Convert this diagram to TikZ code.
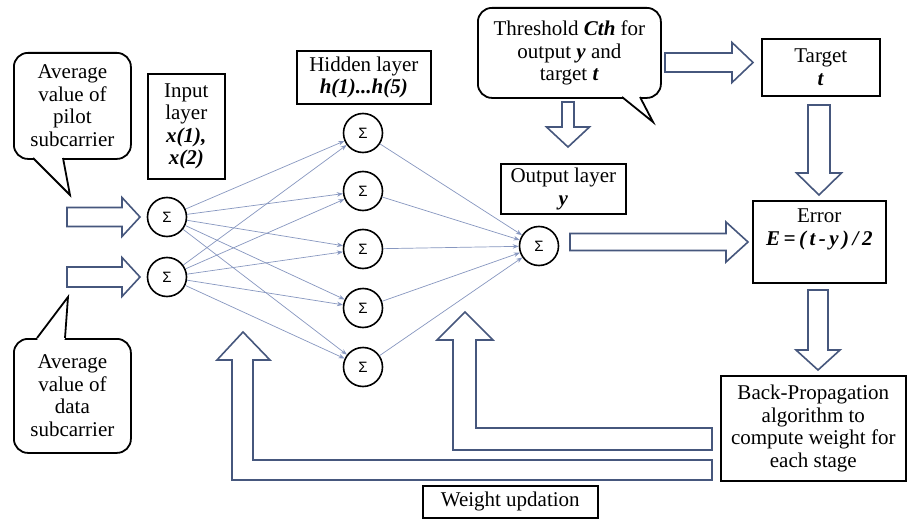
\documentclass[tikz,border=0pt]{standalone}
\usepackage{fontspec}
\setmainfont{Liberation Serif}
\newfontfamily\txtfont{Liberation Serif}
\newfontfamily\sigfont{Liberation Sans}
\usetikzlibrary{arrows.meta}
\definecolor{arrowc}{HTML}{46577D}
\definecolor{linec}{HTML}{8797C0}
\newcommand\rblock[6]{\draw[barrow] (#1,#4-#5) -- (#2,#4-#5) -- (#2,#4-#6) -- (#3,#4) -- (#2,#4+#6) -- (#2,#4+#5) -- (#1,#4+#5) -- cycle;}
\newcommand\dblock[6]{\draw[barrow] (#1-#5,#2) -- (#1+#5,#2) -- (#1+#5,#3) -- (#1+#6,#3) -- (#1,#4) -- (#1-#6,#3) -- (#1-#5,#3) -- cycle;}
% pointer: base x1, base x2, base y, tip x, tip y, inward offset
\newcommand\cptr[6]{\fill[white] (#1+1,#3+#6) -- (#2-1,#3+#6) -- (#2,#3) -- (#4,#5) -- (#1,#3) -- cycle;
  \draw[line width=1.8pt, line join=miter] (#1,#3) -- (#4,#5) -- (#2,#3);}
\begin{document}
\begin{tikzpicture}[x=1pt,y=-1pt,
  every node/.style={font=\txtfont\fontsize{21}{22.5}\selectfont},
  box/.style={draw, line width=1.6pt, fill=white, align=center, inner sep=0pt, anchor=north west},
  callout/.style={draw, line width=1.8pt, fill=white, rounded corners=14pt, align=center, inner sep=0pt, anchor=north west},
  neuron/.style={circle, draw, line width=1.6pt, fill=white, minimum size=39pt, inner sep=0pt, font=\sigfont\fontsize{15}{15}\selectfont},
  conn/.style={draw=linec, line width=0.7pt, -{Stealth[length=6pt,width=4.5pt]}},
  barrow/.style={draw=arrowc, line width=1.6pt, fill=white, line join=miter}]
\fill[white] (0,0) rectangle (907,519);
\useasboundingbox (0,0) rectangle (907,519);

% callouts
\node[callout, minimum width=117pt, minimum height=106pt] (pilot) at (13,52) {Average\\value of\\pilot\\subcarrier};
\cptr{33}{63}{158}{70}{195}{-3}
\node[callout, minimum width=117pt, minimum height=114pt] (data) at (13,338) {Average\\value of\\data\\subcarrier};
\cptr{37}{65}{338}{68}{297}{3}
\node[callout, minimum width=183pt, minimum height=90pt] (thr) at (477,7) {Threshold \textbf{\textit{Cth}} for\\output \textbf{\textit{y}} and\\target \textbf{\textit{t}}};
\cptr{622}{640}{97}{653}{122}{-3}

% boxes
\node[box, minimum width=77pt, minimum height=105pt] (inl) at (147,73) {Input\\layer\\\textbf{\textit{x(1),}}\\\textbf{\textit{x(2)}}};
\node[box, minimum width=134pt, minimum height=53pt] (hidl) at (296,50) {Hidden layer\\\textbf{\textit{h(1)...h(5)}}};
\node[box, minimum width=125pt, minimum height=50pt] (outl) at (500,163) {Output layer\\\textbf{\textit{y}}};
\node[box, minimum width=118pt, minimum height=57pt] (target) at (761,38) {Target\\\textbf{\textit{t}}};
\node[box, minimum width=133pt, minimum height=82pt] (error) at (752,200) {};
\node[anchor=north, align=center, inner sep=0pt] (errt) at ([yshift=-9pt]error.north) {Error\\\textbf{\textit{E\,=\,(\,t\,-\,y\,)\,/\,2}}};
\node[box, minimum width=185pt, minimum height=105pt] (bp) at (720,375) {Back-Propagation\\algorithm to\\compute weight for\\each stage};
\node[box, minimum width=175pt, minimum height=32pt] (wu) at (422,485) {Weight updation};

% neurons
\node[neuron] (i1) at (167,217) {Σ};
\node[neuron] (i2) at (167,277) {Σ};
\foreach \k/\yy in {1/133,2/191,3/249,4/308,5/367}
  \node[neuron] (h\k) at (363,\yy) {Σ};
\node[neuron] (out) at (539,246) {Σ};

% connections
\foreach \i in {i1,i2}
  \foreach \h in {h1,h2,h3,h4,h5}
    \draw[conn] (\i) -- (\h);
\foreach \h in {h1,h2,h3,h4,h5}
  \draw[conn] (\h) -- (out);

% block arrows
\rblock{67}{122}{140}{217}{9.5}{19.5}
\rblock{67}{122}{140}{277}{10}{19.5}
\rblock{570}{726}{748}{242}{8.5}{20}
\rblock{665}{732}{753}{62.5}{9.5}{20}
\dblock{568}{102}{127}{147}{6}{21.5}
\dblock{819}{105}{173}{195}{11}{22.5}
\dblock{818}{290}{350}{370}{10}{22}

% feedback arrows
\draw[barrow] (712,480) -- (232,480) -- (232,360) -- (217,360) -- (243,332) -- (270,360) -- (253,360) -- (253,460) -- (712,460) -- cycle;
\draw[barrow] (712,450) -- (453,450) -- (453,340) -- (437,340) -- (465,312) -- (493,340) -- (476,340) -- (476,428) -- (712,428) -- cycle;
\end{tikzpicture}
\end{document}
